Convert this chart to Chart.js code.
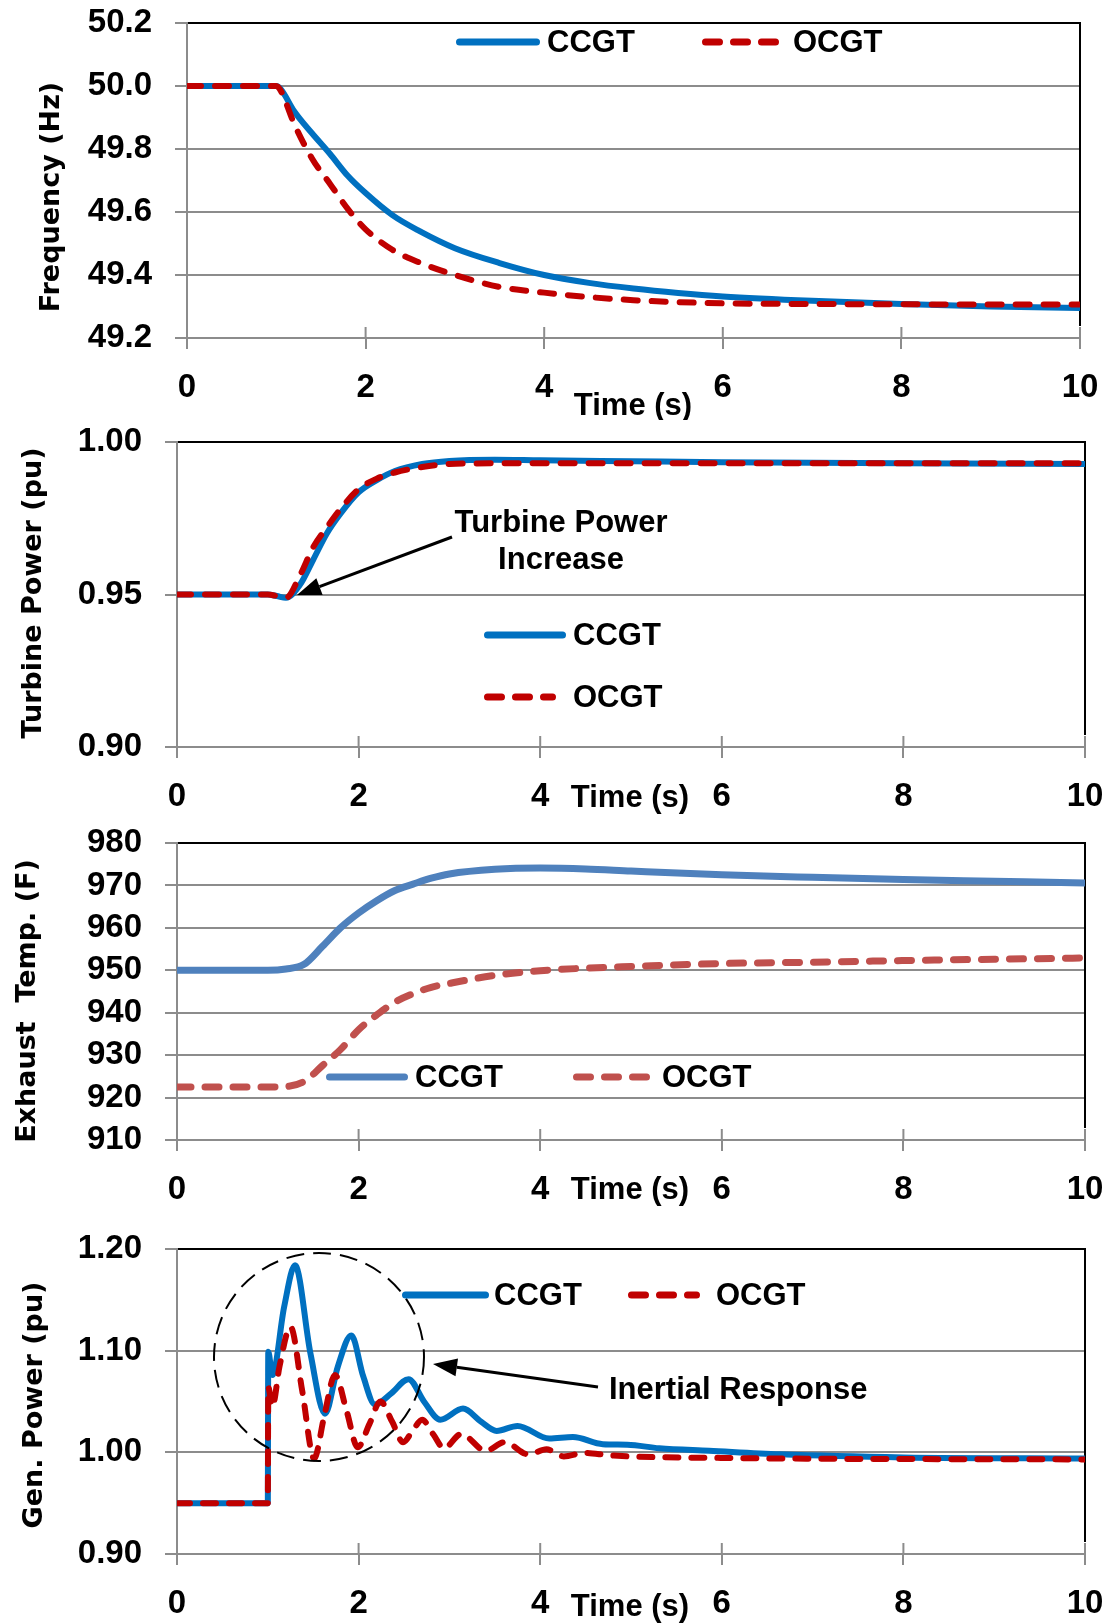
<!DOCTYPE html>
<html>
<head>
<meta charset="utf-8">
<title>CCGT vs OCGT response</title>
<script src="https://cdn.jsdelivr.net/npm/chart.js@4.4.1/dist/chart.umd.min.js"></script>
<style>
  body { margin: 0; background: #fff; }
  #wrap { position: relative; width: 1111px; height: 1623px; overflow: hidden; }
  canvas { position: absolute; left: 0; }
</style>
</head>
<body>
<div id="wrap">
  <canvas id="freqChart" width="1111" height="420" style="top:0px"></canvas>
  <canvas id="turbChart" width="1111" height="400" style="top:420px"></canvas>
  <canvas id="tempChart" width="1111" height="395" style="top:820px"></canvas>
  <canvas id="genChart" width="1111" height="408" style="top:1215px"></canvas>
</div>
<script>
// ---- data ----
const timeTicks = [0, 2, 4, 6, 8, 10];

// Frequency (Hz)
const freqTime = [0, 0.5, 1.0, 1.05, 1.2, 1.4, 1.6, 1.8, 2.0, 2.3, 2.6, 3.0, 3.5, 4.0, 4.5, 5.0, 5.5, 6.0, 7.0, 8.0, 9.0, 10.0];
const freqCCGT = [50.0, 50.0, 50.0, 49.99, 49.92, 49.85, 49.785, 49.715, 49.66, 49.59, 49.54, 49.485, 49.438, 49.40, 49.375, 49.357, 49.343, 49.332, 49.318, 49.308, 49.30, 49.295];
const freqOCGT = [50.0, 50.0, 50.0, 49.985, 49.88, 49.77, 49.69, 49.61, 49.545, 49.48, 49.44, 49.40, 49.362, 49.344, 49.33, 49.32, 49.314, 49.31, 49.308, 49.307, 49.306, 49.306];
const freqTicks = [49.2, 49.4, 49.6, 49.8, 50.0, 50.2];

// Turbine power (pu)
const turbTime = [0, 0.5, 1.0, 1.1, 1.2, 1.35, 1.5, 1.65, 1.8, 2.0, 2.2, 2.4, 2.7, 3.0, 3.5, 4.0, 5.0, 6.0, 8.0, 10.0];
const turbCCGT = [0.95, 0.95, 0.95, 0.9495, 0.9489, 0.953, 0.9614, 0.970, 0.9765, 0.9835, 0.9875, 0.9905, 0.9928, 0.9938, 0.9942, 0.994, 0.9937, 0.9934, 0.993, 0.9928];
const turbOCGT = [0.95, 0.95, 0.95, 0.9495, 0.9489, 0.956, 0.9655, 0.972, 0.978, 0.9845, 0.988, 0.990, 0.9918, 0.9928, 0.993, 0.993, 0.993, 0.993, 0.993, 0.993];
const turbTicks = [0.90, 0.95, 1.00];

// Exhaust temperature (F)
const tempTime = [0, 0.5, 1.0, 1.2, 1.4, 1.6, 1.8, 2.0, 2.2, 2.4, 2.6, 2.8, 3.0, 3.5, 4.0, 4.5, 5.0, 6.0, 7.0, 8.0, 9.0, 10.0];
const tempCCGT = [950, 950, 950, 950.3, 951.4, 955.6, 960.0, 963.5, 966.4, 968.8, 970.3, 971.7, 972.7, 973.8, 974.1, 973.9, 973.4, 972.5, 971.9, 971.4, 971.0, 970.6];
const tempOCGT = [922.5, 922.5, 922.5, 922.6, 923.8, 927.5, 931.3, 936.0, 939.5, 942.5, 944.5, 946.0, 946.9, 948.8, 949.9, 950.5, 950.9, 951.6, 951.9, 952.3, 952.6, 952.9];
const tempTicks = [910, 920, 930, 940, 950, 960, 970, 980];

// Generator power (pu)
const genTimeCCGT = [0, 1.0, 1.005, 1.05, 1.18, 1.3, 1.47, 1.63, 1.77, 1.92, 2.05, 2.18, 2.36, 2.55, 2.72, 2.9, 3.15, 3.35, 3.52, 3.75, 4.1, 4.36, 4.69, 4.96, 5.31, 5.86, 6.64, 8.0, 10.0];
const genCCGT = [0.95, 0.95, 1.099, 1.076, 1.143, 1.184, 1.097, 1.038, 1.084, 1.115, 1.075, 1.047, 1.058, 1.072, 1.05, 1.032, 1.043, 1.03, 1.021, 1.026, 1.0136, 1.015, 1.008, 1.0075, 1.004, 1.0015, 0.998, 0.995, 0.994];
const genTimeOCGT = [0, 1.0, 1.005, 1.05, 1.13, 1.25, 1.38, 1.51, 1.62, 1.74, 1.87, 1.99, 2.12, 2.24, 2.37, 2.49, 2.6, 2.7, 2.82, 2.94, 3.13, 3.4, 3.61, 3.87, 4.07, 4.26, 4.49, 4.77, 6.0, 10.0];
const genOCGT = [0.95, 0.95, 1.064, 1.045, 1.085, 1.1235, 1.06, 0.994, 1.035, 1.076, 1.04, 1.005, 1.028, 1.05, 1.03, 1.01, 1.022, 1.032, 1.018, 1.004, 1.018, 1.0015, 1.01, 0.998, 1.003, 0.996, 0.9995, 0.997, 0.9945, 0.993];
const genTicks = [0.90, 1.00, 1.10, 1.20];

// ---- styling ----
const GRID = '#8c8c8c';
const BLUE = '#0070C0';
const RED = '#C00000';
const BLUE2 = '#4F81BD';  // exhaust temp panel uses the softer Excel colours
const RED2 = '#C0504D';
const NUM_FONT = 'Liberation Sans, Arial, sans-serif';
const TITLE_FONT = 'DejaVu Sans, Verdana, sans-serif';

function legendItem(ctx, x1, x2, y, color, dashed, textX, label) {
    ctx.save();
    ctx.strokeStyle = color;
    ctx.lineWidth = 7;
    ctx.lineCap = 'round';
    ctx.setLineDash(dashed ? [14, 14] : []);
    ctx.beginPath();
    ctx.moveTo(x1 + 3.5, y);
    ctx.lineTo(x2 - 3.5, y);
    ctx.stroke();
    ctx.setLineDash([]);
    ctx.fillStyle = '#000';
    ctx.font = 'bold 31px ' + NUM_FONT;
    ctx.textAlign = 'left';
    ctx.textBaseline = 'middle';
    ctx.fillText(label, textX, y + 1);
    ctx.restore();
}

function yTitle(ctx, text, x, y) {
    ctx.save();
    ctx.translate(x, y);
    ctx.rotate(-Math.PI / 2);
    ctx.fillStyle = '#000';
    ctx.font = 'bold 27px ' + TITLE_FONT;
    ctx.textAlign = 'center';
    ctx.textBaseline = 'middle';
    ctx.fillText(text, 0, 0);
    ctx.restore();
}

function plainText(ctx, text, x, y, align) {
    ctx.save();
    ctx.fillStyle = '#000';
    ctx.font = 'bold 31px ' + NUM_FONT;
    ctx.textAlign = align || 'center';
    ctx.textBaseline = 'middle';
    ctx.fillText(text, x, y);
    ctx.restore();
}

function arrow(ctx, x1, y1, x2, y2) {
    const ang = Math.atan2(y2 - y1, x2 - x1);
    const len = 24, half = 9;
    const bx = x2 - len * Math.cos(ang), by = y2 - len * Math.sin(ang);
    ctx.save();
    ctx.strokeStyle = '#000';
    ctx.fillStyle = '#000';
    ctx.lineWidth = 3;
    ctx.beginPath();
    ctx.moveTo(x1, y1);
    ctx.lineTo(bx, by);
    ctx.stroke();
    ctx.beginPath();
    ctx.moveTo(x2, y2);
    ctx.lineTo(bx + half * Math.sin(ang), by - half * Math.cos(ang));
    ctx.lineTo(bx - half * Math.sin(ang), by + half * Math.cos(ang));
    ctx.closePath();
    ctx.fill();
    ctx.restore();
}

function makeChart(cfg) {
    const canvas = document.getElementById(cfg.id);
    const H = canvas.height;
    const datasets = cfg.series.map(s => ({
        label: s.label,
        data: s.time.map((t, i) => ({ x: t, y: s.values[i] })),
        borderColor: s.color,
        borderWidth: cfg.lineWidth,
        borderDash: s.dashed ? [cfg.dash[0], cfg.dash[1]] : [],
        borderCapStyle: s.dashed ? 'round' : 'butt',
        borderJoinStyle: 'round',
        pointRadius: 0,
        cubicInterpolationMode: 'monotone',
        fill: false,
        order: s.dashed ? 0 : 1
    }));

    return new Chart(canvas.getContext('2d'), {
        type: 'line',
        data: { datasets: datasets },
        options: {
            responsive: false,
            animation: false,
            devicePixelRatio: 1,
            events: [],
            layout: { padding: { top: cfg.area.top - cfg.offset, right: 1111 - cfg.area.right, left: 0, bottom: 0 } },
            plugins: { legend: { display: false }, tooltip: { enabled: false } },
            scales: {
                x: {
                    type: 'linear',
                    min: 0,
                    max: 10,
                    afterBuildTicks: scale => { scale.ticks = timeTicks.map(v => ({ value: v })); },
                    afterFit: scale => {
                        scale.height = H - (cfg.area.bottom - cfg.offset);
                        scale.paddingLeft = 0;
                        scale.paddingRight = 0;
                    },
                    grid: { drawOnChartArea: false, drawTicks: true, tickLength: 11, color: GRID, lineWidth: 2 },
                    border: { color: GRID, width: 2 },
                    ticks: { color: '#000', font: { family: NUM_FONT, size: 33, weight: 'bold' }, padding: 19, maxRotation: 0, autoSkip: false }
                },
                y: {
                    min: cfg.yTicks[0],
                    max: cfg.yTicks[cfg.yTicks.length - 1],
                    afterBuildTicks: scale => { scale.ticks = cfg.yTicks.map(v => ({ value: v })); },
                    afterFit: scale => {
                        scale.width = cfg.area.left;
                        scale.paddingTop = 0;
                        scale.paddingBottom = 0;
                    },
                    grid: { color: GRID, lineWidth: 2, drawTicks: true, tickLength: 12 },
                    border: { color: GRID, width: 2 },
                    ticks: {
                        color: '#000',
                        font: { family: NUM_FONT, size: 33, weight: 'bold' },
                        padding: 23,
                        autoSkip: false,
                        callback: v => v.toFixed(cfg.decimals)
                    }
                }
            }
        },
        plugins: [{
            id: 'frame',
            beforeDatasetsDraw(chart) {
                const ctx = chart.ctx, ca = chart.chartArea;
                ctx.save();
                ctx.strokeStyle = '#000';
                ctx.lineWidth = 2;
                ctx.beginPath();
                ctx.moveTo(ca.left + 1, ca.top);
                ctx.lineTo(ca.right, ca.top);
                ctx.lineTo(ca.right, ca.bottom - 12);
                ctx.stroke();
                // tick marks on the time axis cross the axis line
                ctx.strokeStyle = GRID;
                timeTicks.forEach(t => {
                    const x = chart.scales.x.getPixelForValue(t);
                    ctx.beginPath();
                    ctx.moveTo(x, ca.bottom - 11);
                    ctx.lineTo(x, ca.bottom);
                    ctx.stroke();
                });
                ctx.restore();
            },
            afterDraw(chart) {
                const ctx = chart.ctx;
                ctx.save();
                ctx.translate(0, -cfg.offset);
                cfg.decorate(ctx);
                ctx.restore();
            }
        }]
    });
}

// Panel 1: frequency
makeChart({
    id: 'freqChart', offset: 0,
    area: { left: 187, right: 1080, top: 23, bottom: 338 },
    yTicks: freqTicks, decimals: 1, lineWidth: 6, dash: [14, 14],
    series: [
        { label: 'CCGT', time: freqTime, values: freqCCGT, color: BLUE, dashed: false },
        { label: 'OCGT', time: freqTime, values: freqOCGT, color: RED, dashed: true }
    ],
    decorate: ctx => {
        yTitle(ctx, 'Frequency (Hz)', 52, 197);
        plainText(ctx, 'Time (s)', 633, 406);
        legendItem(ctx, 456, 540, 42, BLUE, false, 547, 'CCGT');
        legendItem(ctx, 702, 783, 42, RED, true, 793, 'OCGT');
    }
});

// Panel 2: turbine power
makeChart({
    id: 'turbChart', offset: 420,
    area: { left: 177, right: 1085, top: 442, bottom: 747 },
    yTicks: turbTicks, decimals: 2, lineWidth: 6, dash: [14, 14],
    series: [
        { label: 'CCGT', time: turbTime, values: turbCCGT, color: BLUE, dashed: false },
        { label: 'OCGT', time: turbTime, values: turbOCGT, color: RED, dashed: true }
    ],
    decorate: ctx => {
        yTitle(ctx, 'Turbine Power (pu)', 34, 593);
        plainText(ctx, 'Time (s)', 630, 798);
        plainText(ctx, 'Turbine Power', 561, 523);
        plainText(ctx, 'Increase', 561, 560);
        arrow(ctx, 452, 537, 297, 595);
        legendItem(ctx, 484, 566, 635, BLUE, false, 573, 'CCGT');
        legendItem(ctx, 484, 556, 697, RED, true, 573, 'OCGT');
    }
});

// Panel 3: exhaust temperature
makeChart({
    id: 'tempChart', offset: 820,
    area: { left: 177, right: 1085, top: 843, bottom: 1140 },
    yTicks: tempTicks, decimals: 0, lineWidth: 7, dash: [14, 14],
    series: [
        { label: 'CCGT', time: tempTime, values: tempCCGT, color: BLUE2, dashed: false },
        { label: 'OCGT', time: tempTime, values: tempOCGT, color: RED2, dashed: true }
    ],
    decorate: ctx => {
        yTitle(ctx, 'Exhaust  Temp. (F)', 28, 1001);
        plainText(ctx, 'Time (s)', 630, 1190);
        legendItem(ctx, 326, 408, 1077, BLUE2, false, 415, 'CCGT');
        legendItem(ctx, 573, 652, 1077, RED2, true, 662, 'OCGT');
    }
});

// Panel 4: generator power
makeChart({
    id: 'genChart', offset: 1215,
    area: { left: 177, right: 1085, top: 1249, bottom: 1554 },
    yTicks: genTicks, decimals: 2, lineWidth: 6, dash: [13, 13],
    series: [
        { label: 'CCGT', time: genTimeCCGT, values: genCCGT, color: BLUE, dashed: false },
        { label: 'OCGT', time: genTimeOCGT, values: genOCGT, color: RED, dashed: true }
    ],
    decorate: ctx => {
        yTitle(ctx, 'Gen. Power (pu)', 35, 1405);
        plainText(ctx, 'Time (s)', 630, 1607);
        // dashed circle around the inertial oscillations
        ctx.save();
        ctx.strokeStyle = '#000';
        ctx.lineWidth = 2;
        ctx.setLineDash([18, 9]);
        ctx.beginPath();
        ctx.ellipse(319, 1357, 105, 104, 0, 0, Math.PI * 2);
        ctx.stroke();
        ctx.restore();
        arrow(ctx, 598, 1387, 433, 1364);
        plainText(ctx, 'Inertial Response', 609, 1390, 'left');
        legendItem(ctx, 402, 489, 1295, BLUE, false, 494, 'CCGT');
        legendItem(ctx, 628, 700, 1295, RED, true, 716, 'OCGT');
    }
});
</script>
</body>
</html>
